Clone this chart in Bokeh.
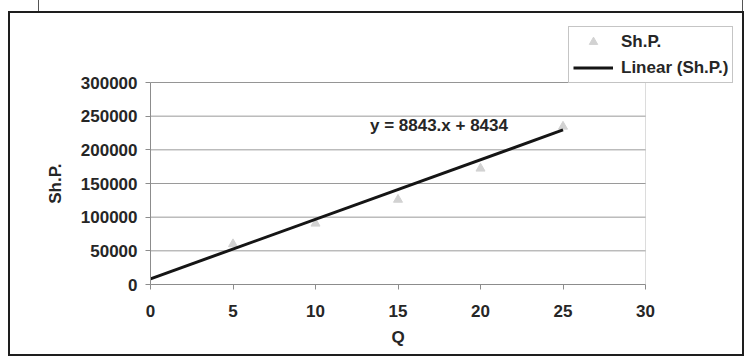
from bokeh.plotting import figure
from bokeh.models import (Range1d, SingleIntervalTicker, BasicTickFormatter, Legend,
                          LegendItem, ColumnDataSource, Label, BoxAnnotation, Title,
                          InlineStyleSheet)
from bokeh.embed import file_html
from bokeh.resources import INLINE
import numpy as np

# ---- data ----
q_values = [5, 10, 15, 20, 25]
shp_values = [60000, 90600, 126000, 172300, 234600]
trend_slope = 8843
trend_intercept = 8434
equation_text = "y = 8843.x + 8434"
series_name = "Sh.P."
trend_name = "Linear (Sh.P.)"
x_label = "Q"
y_label = "Sh.P."
x_axis_max = 30
x_tick_step = 5
y_axis_max = 300000
y_tick_step = 50000

FONT = "Liberation Sans"
TXT = "#262626"
GRID = "#9a9a9a"

# layout (canvas pixels): plot area 140..635 x 69..271 on a 732x341 canvas;
# the frame extends up/right to leave room for the legend box
W, H = 732, 341
PA_L, PA_R, PA_T, PA_B = 140, 635, 69, 271
FR_R, FR_T = 730, 7
x_end = x_axis_max * (FR_R - PA_L) / (PA_R - PA_L)
y_end = y_axis_max * (PA_B - FR_T) / (PA_B - PA_T)

p = figure(width=W, height=H, output_backend="svg", toolbar_location=None,
           x_range=Range1d(0, x_end), y_range=Range1d(0, y_end))
p.title.visible = False
p.min_border_left = PA_L
p.min_border_right = W - FR_R
p.min_border_top = FR_T
p.min_border_bottom = H - PA_B
p.background_fill_color = "white"
p.border_fill_color = "white"
p.outline_line_color = None

# outer chart frame (CSS outline around the figure) and the box edges above it
p.styles = {"margin-left": "10px", "margin-top": "13px", "position": "relative",
            "outline": "2px solid #1e1e1e"}
p.stylesheets = [InlineStyleSheet(css="""
:host::before { content: ""; position: absolute; left: 28px; top: -14px;
  width: 703px; height: 12px; border-left: 1px solid #555; border-right: 1px solid #555;
  pointer-events: none; }
""")]

# axes
p.xaxis.ticker = SingleIntervalTicker(interval=x_tick_step, num_minor_ticks=0)
p.yaxis.ticker = SingleIntervalTicker(interval=y_tick_step, num_minor_ticks=0)
p.xaxis.bounds = (0, x_axis_max)
p.yaxis.bounds = (0, y_axis_max)
p.yaxis.formatter = BasicTickFormatter(use_scientific=False)
for ax in (p.xaxis, p.yaxis):
    ax.axis_line_color = "#8c8c8c"
    ax.major_tick_line_color = "#8c8c8c"
    ax.major_tick_out = 5
    ax.major_tick_in = 0
    ax.minor_tick_line_color = None
    ax.major_label_text_font = FONT
    ax.major_label_text_font_style = "bold"
    ax.major_label_text_font_size = "17px"
    ax.major_label_text_color = TXT
p.xaxis.major_label_standoff = 15
p.yaxis.major_label_standoff = 8

# axis titles, placed on the plot area (not on the extended frame)
q_width = 0.778 * 17
shp_width = 2.501 * 17
x_title_offset = (PA_R - PA_L) / 2 - q_width / 2
y_title_offset = (PA_B - 169) - shp_width / 2
p.add_layout(Title(text=x_label, align="left", offset=x_title_offset,
                   text_font=FONT, text_font_style="bold", text_font_size="17px",
                   text_color=TXT, standoff=12, vertical_align="bottom"), "below")
p.add_layout(Title(text=y_label, align="left", offset=y_title_offset,
                   text_font=FONT, text_font_style="bold", text_font_size="17px",
                   text_color=TXT, standoff=26, vertical_align="bottom"), "left")

p.xgrid.grid_line_color = None
p.ygrid.grid_line_color = None

# plot-area border and horizontal gridlines (limited to the plot area)
p.add_layout(BoxAnnotation(left=0, right=x_axis_max, bottom=0, top=y_axis_max,
                           fill_alpha=0, line_color="#8c8c8c", line_width=1,
                           level="underlay"))
grid_y = list(range(y_tick_step, y_axis_max + 1, y_tick_step))
p.segment(x0=[0] * len(grid_y), x1=[x_axis_max] * len(grid_y), y0=grid_y, y1=grid_y,
          line_color=GRID, line_width=1, level="underlay")

# series
src = ColumnDataSource(dict(q=q_values, shp=shp_values))
pts = p.scatter("q", "shp", source=src, marker="triangle", size=9,
                fill_color="#d2d2d2", line_color="#d2d2d2")

tx = np.array([0, max(q_values)], dtype=float)
ty = trend_slope * tx + trend_intercept
trend = p.line(tx, ty, line_color="#151515", line_width=3)

p.add_layout(Label(x=13.3, y=236000, text=equation_text, text_font=FONT,
                   text_font_style="bold", text_font_size="17px", text_color=TXT,
                   text_baseline="middle", text_align="left"))

legend = Legend(items=[LegendItem(label=series_name, renderers=[pts]),
                       LegendItem(label=trend_name, renderers=[trend])],
                location=(418, 201))
legend.label_text_font = FONT
legend.label_text_font_style = "bold"
legend.label_text_font_size = "17px"
legend.label_text_color = TXT
legend.border_line_color = "#8c8c8c"
legend.border_line_width = 1
legend.background_fill_color = "white"
legend.padding = 4
legend.margin = 0
legend.spacing = 5
legend.glyph_width = 40
legend.glyph_height = 21
legend.label_height = 21
legend.label_standoff = 8
p.add_layout(legend, "center")

open("out.html", "w").write(file_html(p, INLINE))
